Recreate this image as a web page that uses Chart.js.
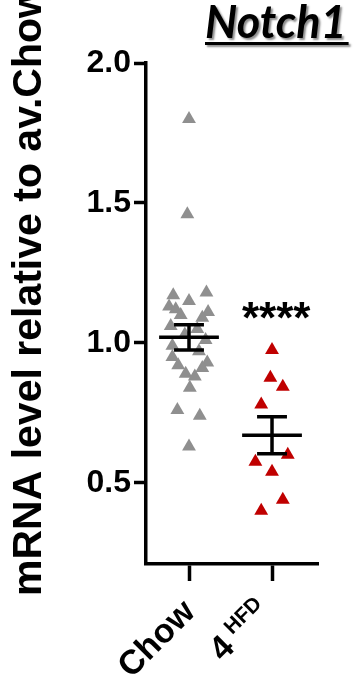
<!DOCTYPE html>
<html>
<head>
<meta charset="utf-8">
<script src="https://cdn.jsdelivr.net/npm/chart.js@4.4.1/dist/chart.umd.min.js"></script>
<style>
  html, body { margin: 0; padding: 0; background: #fff; }
</style>
</head>
<body>
<canvas id="myChart" width="356" height="689"></canvas>
<script>
// values
const chowValues = [1.80, 1.46, 1.18, 1.17, 1.15, 1.13, 1.12, 1.11, 1.10, 1.09, 1.06, 1.05, 1.03,
                    1.01, 0.99, 0.97, 0.95, 0.93, 0.92, 0.91, 0.89, 0.88, 0.84, 0.76, 0.74, 0.63];
const chowJitter = [0, -0.02, 0.21, -0.19, 0, -0.24, -0.16, 0.23, -0.1, 0.16, -0.22, 0.1, -0.05,
                    0.2, -0.2, 0.12, -0.2, 0.22, -0.13, 0.16, -0.04, 0.07, 0.01, -0.14, 0.13, 0];
const hfdValues = [0.975, 0.875, 0.843, 0.78, 0.60, 0.575, 0.54, 0.44, 0.40];
const hfdJitter = [0, -0.02, 0.13, -0.13, 0.19, -0.2, 0, 0.13, -0.13];
const groupMeans = [1.02, 0.67];
const groupSems = [0.045, 0.066];
const yTicks = [0.5, 1.0, 1.5, 2.0];
const xTicks = [1, 2];
const sigText = '****';

const meanHalf = 0.36, capHalf = 0.18;

let summary = [];
groupMeans.forEach((m, i) => {
  let x = xTicks[i], s = groupSems[i];
  summary.push({x: x - meanHalf, y: m}, {x: x + meanHalf, y: m}, {x: x, y: null});
  summary.push({x: x, y: m - s}, {x: x, y: m + s}, {x: x, y: null});
  summary.push({x: x - capHalf, y: m + s}, {x: x + capHalf, y: m + s}, {x: x, y: null});
  summary.push({x: x - capHalf, y: m - s}, {x: x + capHalf, y: m - s}, {x: x, y: null});
});

const chowPoints = chowValues.map((v, i) => ({x: xTicks[0] + chowJitter[i], y: v}));
const hfdPoints = hfdValues.map((v, i) => ({x: xTicks[1] + hfdJitter[i], y: v}));

const textPlugin = {
  id: 'texts',
  afterDraw(chart) {
    const ctx = chart.ctx, xs = chart.scales.x, ys = chart.scales.y;
    ctx.save();
    ctx.fillStyle = '#000';

    // title
    ctx.font = 'italic bold 45px Lato';
    ctx.textAlign = 'left';
    ctx.textBaseline = 'alphabetic';
    ctx.shadowColor = 'rgba(0,0,0,0.45)';
    ctx.shadowOffsetX = 2; ctx.shadowOffsetY = 2; ctx.shadowBlur = 2;
    ctx.fillText('Notch1', 205, 38);
    let tw = ctx.measureText('Notch1').width;
    ctx.fillRect(205, 42, tw + 2, 3);
    ctx.shadowColor = 'transparent';

    // y axis title
    ctx.save();
    ctx.translate(41, 596);
    ctx.rotate(-Math.PI / 2);
    ctx.font = 'bold 41px "Liberation Sans"';
    ctx.textAlign = 'left';
    ctx.fillText('mRNA level relative to av.Chow', 0, 0);
    ctx.restore();

    // x labels
    ctx.save();
    ctx.translate(xs.getPixelForValue(xTicks[0]) + 1, 607);
    ctx.rotate(-Math.PI / 4);
    ctx.font = 'bold 34px "Liberation Sans"';
    ctx.textAlign = 'right';
    ctx.textBaseline = 'middle';
    ctx.fillText('Chow', 0, 0);
    ctx.restore();

    ctx.save();
    ctx.translate(xs.getPixelForValue(xTicks[1]) - 7, 607);
    ctx.rotate(-Math.PI / 4);
    ctx.textAlign = 'right';
    ctx.textBaseline = 'middle';
    ctx.font = 'bold 21px "Liberation Sans"';
    ctx.fillText('HFD', 0, -9);
    let hw = ctx.measureText('HFD').width;
    ctx.font = 'bold 34px "Liberation Sans"';
    ctx.fillText('4', -hw - 7, 0);
    ctx.restore();

    // significance
    ctx.font = 'bold 44px "Liberation Sans"';
    ctx.textAlign = 'center';
    ctx.textBaseline = 'alphabetic';
    let mt = ctx.measureText(sigText);
    let cy = ys.getPixelForValue(1.115);
    ctx.fillText(sigText, xs.getPixelForValue(2.05), cy + (mt.actualBoundingBoxAscent - mt.actualBoundingBoxDescent) / 2);
    ctx.restore();
  }
};

new Chart(document.getElementById('myChart'), {
  type: 'scatter',
  data: {
    datasets: [
      {
        data: summary,
        showLine: true,
        borderColor: '#000',
        borderWidth: 3.5,
        borderCapStyle: 'butt',
        pointRadius: 0,
        order: 0
      },
      {
        data: chowPoints,
        pointStyle: 'triangle',
        pointRadius: 8,
        pointBackgroundColor: '#8f8f8f',
        pointBorderColor: '#8f8f8f',
        pointBorderWidth: 0,
        order: 1
      },
      {
        data: hfdPoints,
        pointStyle: 'triangle',
        pointRadius: 8,
        pointBackgroundColor: '#c00000',
        pointBorderColor: '#c00000',
        pointBorderWidth: 0,
        order: 1
      }
    ]
  },
  options: {
    responsive: false,
    animation: false,
    events: [],
    layout: { padding: { left: 0, top: 63, right: 38, bottom: 0 } },
    plugins: { legend: { display: false }, tooltip: { enabled: false } },
    scales: {
      x: {
        type: 'linear',
        min: 0.482,
        max: 2.554,
        afterBuildTicks: (scale) => { scale.ticks = xTicks.map(v => ({value: v})); },
        afterFit: (scale) => { scale.height = 125; },
        ticks: { display: false },
        grid: { drawOnChartArea: false, drawTicks: true, tickLength: 17, tickWidth: 3.5, tickColor: '#000' },
        border: { display: true, color: '#000', width: 3.5 }
      },
      y: {
        min: 0.21,
        max: 2.0,
        afterBuildTicks: (scale) => { scale.ticks = yTicks.map(v => ({value: v})); },
        afterFit: (scale) => { scale.width = 146; },
        ticks: {
          color: '#000',
          font: { family: 'Liberation Sans', size: 32, weight: 'bold' },
          padding: 3,
          callback: (v) => v.toFixed(1)
        },
        grid: { drawOnChartArea: false, drawTicks: true, tickLength: 12, tickWidth: 3.5, tickColor: '#000' },
        border: { display: true, color: '#000', width: 3.5 }
      }
    }
  },
  plugins: [textPlugin]
});
</script>
</body>
</html>
